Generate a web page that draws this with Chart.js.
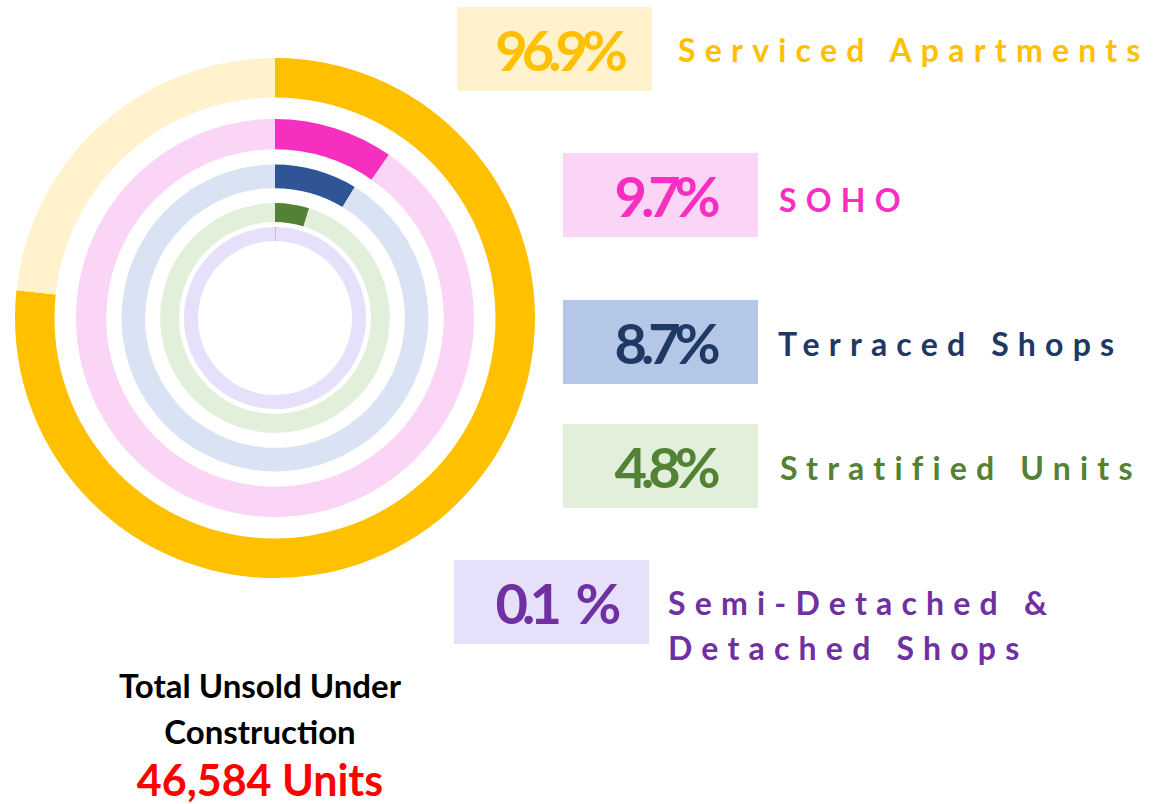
<!DOCTYPE html>
<html>
<head>
<meta charset="utf-8">
<script src="https://cdn.jsdelivr.net/npm/chart.js@4.4.1/dist/chart.umd.min.js"></script>
<style>
  html, body { margin: 0; padding: 0; background: #fff; }
  body { width: 1153px; height: 804px; position: relative; overflow: hidden; font-family: Lato, "Open Sans", sans-serif; }
  #ringWrap { position: absolute; left: 15px; top: 58px; width: 520px; height: 520px; }
  .pctBox { position: absolute; width: 195px; height: 84px; display: flex; align-items: center; justify-content: center;
            font-weight: 700; font-size: 56px; letter-spacing: -6px; word-spacing: 12px; padding-left: 8px; box-sizing: border-box; white-space: pre; }
  .catLabel { position: absolute; font-weight: 700; font-size: 32px; line-height: 32px; letter-spacing: 9.2px; white-space: pre; }
  #totalTxt { position: absolute; left: 60px; width: 400px; top: 662px; text-align: center; font-weight: 700; font-size: 33px; line-height: 46px; color: #000; }
  #unitsTxt { position: absolute; left: 60px; width: 400px; top: 753px; text-align: center; font-weight: 700; font-size: 43px; line-height: 54px; color: #ff0000; }
</style>
</head>
<body>
<div id="ringWrap"><canvas id="rings"></canvas></div>
<div id="labels"></div>
<div id="totalTxt">Total Unsold Under<br>Construction</div>
<div id="unitsTxt"></div>

<script>
// categories, outer ring first
const categories = ['Serviced Apartments', 'SOHO', 'Terraced Shops', 'Stratified Units', 'Semi-Detached &\nDetached Shops'];
// percentages printed in the boxes
const pctLabels = ['96.9%', '9.7%', '8.7%', '4.8%', '0.1 %'];
// share of each ring that is filled, as drawn
const ringShare = [76.7, 9.7, 8.7, 4.8, 0.1];
const totalUnits = '46,584';

const fillColors = ['#FFC000', '#F72FC0', '#2F5597', '#538135', '#7030A0'];
const trackColors = ['#FFF2CC', '#FAD5F5', '#DAE3F3', '#E2EFDA', '#E7E0FB'];
const boxColors = ['#FFF2CC', '#FAD5F5', '#B4C7E7', '#E2EFDA', '#E7E0FB'];
const textColors = ['#FFC000', '#F72FC0', '#203864', '#538135', '#7030A0'];
// ring thickness and the white gap after each ring (px)
const ringWeights = [39.5, 30.3, 23.6, 19, 14.1];
const gapWeights = [21.5, 15.3, 15, 4.8];

// box / label placement
const boxPos = [[457, 7], [563, 153], [563, 300], [563, 424], [454, 560]];
const labelPos = [[678, 34], [779, 184], [778, 328], [780, 452], [668, 580]];

const datasets = [];
ringShare.forEach((v, i) => {
    datasets.push({
        data: [v, 100 - v],
        backgroundColor: [fillColors[i], trackColors[i]],
        borderWidth: 0,
        weight: ringWeights[i]
    });
    if (i < gapWeights.length) {
        datasets.push({
            data: [1],
            backgroundColor: ['rgba(0,0,0,0)'],
            borderWidth: 0,
            weight: gapWeights[i]
        });
    }
});

new Chart(document.getElementById('rings').getContext('2d'), {
    type: 'doughnut',
    data: { labels: ['share', 'rest'], datasets: datasets },
    options: {
        responsive: true,
        maintainAspectRatio: false,
        animation: false,
        cutout: 77,
        layout: { padding: 0 },
        plugins: {
            legend: { display: false },
            tooltip: { enabled: false }
        }
    }
});

// percentage boxes and category labels
const holder = document.getElementById('labels');
categories.forEach((cat, i) => {
    const box = document.createElement('div');
    box.className = 'pctBox';
    box.style.left = boxPos[i][0] + 'px';
    box.style.top = boxPos[i][1] + 'px';
    box.style.background = boxColors[i];
    box.style.color = textColors[i];
    box.textContent = pctLabels[i];
    holder.appendChild(box);

    const lab = document.createElement('div');
    lab.className = 'catLabel';
    lab.style.left = labelPos[i][0] + 'px';
    lab.style.top = labelPos[i][1] + 'px';
    lab.style.color = textColors[i];
    if (i === 4) lab.style.lineHeight = '45px';
    lab.textContent = cat;
    holder.appendChild(lab);
});
document.getElementById('unitsTxt').textContent = totalUnits + ' Units';
</script>
</body>
</html>
